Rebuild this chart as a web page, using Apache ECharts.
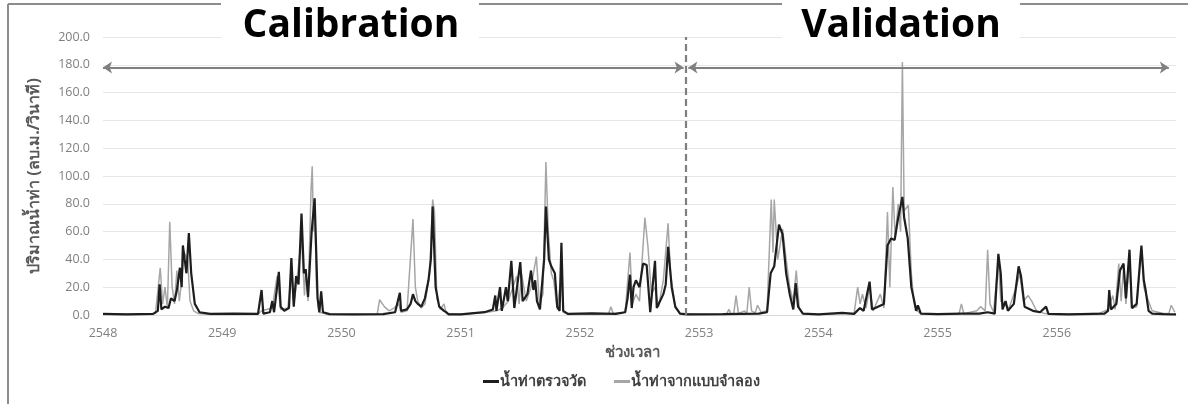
<!DOCTYPE html>
<html><head><meta charset="utf-8">
<script src="https://cdn.jsdelivr.net/npm/echarts@6/dist/echarts.min.js"></script>
<style>html,body{margin:0;padding:0;background:#fff}#c{width:1188px;height:404px}</style>
</head><body><div id="c"></div>
<script>
// Observed runoff (น้ำท่าตรวจวัด): time (Thai year) and flow (cms)
const obsTime = [2548.00,2548.20,2548.42,2548.46,2548.475,2548.49,2548.52,2548.55,2548.57,2548.60,2548.62,2548.645,2548.66,2548.67,2548.685,2548.70,2548.72,2548.74,2548.77,2548.81,2548.90,
2549.10,2549.30,2549.33,2549.345,2549.40,2549.42,2549.435,2549.46,2549.475,2549.49,2549.52,2549.56,2549.58,2549.60,2549.62,2549.64,2549.665,2549.685,2549.70,2549.72,2549.735,2549.75,2549.775,2549.80,2549.815,2549.83,2549.845,2549.90,
2550.10,2550.35,2550.45,2550.49,2550.50,2550.55,2550.58,2550.60,2550.62,2550.64,2550.67,2550.70,2550.73,2550.75,2550.765,2550.79,2550.82,2550.86,2550.88,2550.90,
2551.00,2551.20,2551.27,2551.29,2551.30,2551.33,2551.345,2551.38,2551.395,2551.425,2551.45,2551.50,2551.52,2551.56,2551.59,2551.61,2551.625,2551.64,2551.665,2551.70,2551.715,2551.74,2551.76,2551.79,2551.81,2551.83,2551.845,2551.86,2551.90,
2552.10,2552.30,2552.38,2552.40,2552.42,2552.435,2552.45,2552.47,2552.50,2552.53,2552.56,2552.59,2552.63,2552.645,2552.70,2552.72,2552.74,2552.77,2552.80,2552.84,2552.90,
2553.20,2553.50,2553.57,2553.60,2553.63,2553.67,2553.70,2553.73,2553.76,2553.79,2553.81,2553.83,2553.87,
2554.00,2554.20,2554.30,2554.35,2554.38,2554.43,2554.45,2554.50,2554.55,2554.58,2554.61,2554.64,2554.67,2554.705,2554.72,2554.75,2554.78,2554.80,2554.82,2554.835,2554.86,
2555.00,2555.20,2555.35,2555.42,2555.48,2555.51,2555.53,2555.545,2555.57,2555.59,2555.64,2555.68,2555.70,2555.73,2555.80,2555.86,2555.91,2555.93,
2556.10,2556.40,2556.43,2556.44,2556.455,2556.50,2556.53,2556.56,2556.58,2556.61,2556.63,2556.67,2556.70,2556.71,2556.73,2556.745,2556.77,2556.80,2556.90,2557.00];
const obsFlow = [0.8,0.5,0.8,3,22,4,6,5,12,10,18,34,20,50,40,30,59,30,8,2,0.8,
1.0,0.8,18,1,2,10,2,20,31,6,3,5,41,6,28,22,73,30,33,13,14,60,84,12,2,17,2,0.6,
0.5,0.6,2,16,3,4,8,15,10,8,6,12,25,40,78,20,6,3,2,0.5,
0.5,2,4,14,3,20,3,20,10,39,5,38,10,15,32,18,25,10,4,40,78,40,35,30,6,3,52,3,0.8,
1.2,0.8,2,12,29,5,20,25,20,37,36,2,39,5,15,22,49,20,6,1,0.5,
0.6,1,2,30,35,65,58,30,15,4,23,6,1,
0.5,1.5,0.8,5,3,24,4,6,8,50,55,54,70,85,70,55,20,12,3,7,1,
0.6,1,1,2,1,44,30,4,10,3,8,35,28,6,3,2,6,0.8,
0.5,1,3,18,4,8,32,37,12,47,5,8,40,50,25,18,3,1,0.6,0.5];

// Simulated runoff (น้ำท่าจากแบบจำลอง)
const simTime = [2548.00,2548.30,2548.44,2548.48,2548.50,2548.52,2548.54,2548.56,2548.58,2548.60,2548.62,2548.64,2548.66,2548.68,2548.71,2548.73,2548.76,2548.80,2548.90,
2549.30,2549.33,2549.42,2549.46,2549.49,2549.55,2549.58,2549.60,2549.62,2549.665,2549.69,2549.70,2549.72,2549.745,2549.755,2549.765,2549.775,2549.79,2549.81,2549.90,
2550.30,2550.32,2550.36,2550.40,2550.44,2550.48,2550.50,2550.55,2550.60,2550.62,2550.64,2550.67,2550.70,2550.74,2550.765,2550.78,2550.80,2550.83,2550.86,2550.88,
2551.00,2551.22,2551.30,2551.35,2551.40,2551.43,2551.47,2551.49,2551.51,2551.55,2551.59,2551.635,2551.66,2551.69,2551.715,2551.735,2551.76,2551.78,2551.81,2551.845,2551.86,2551.90,
2552.20,2552.24,2552.26,2552.28,2552.38,2552.42,2552.44,2552.47,2552.50,2552.545,2552.57,2552.60,2552.63,2552.66,2552.70,2552.74,2552.76,2552.80,2552.84,
2553.00,2553.23,2553.25,2553.27,2553.29,2553.31,2553.33,2553.38,2553.40,2553.42,2553.44,2553.47,2553.49,2553.52,2553.57,2553.605,2553.62,2553.63,2553.66,2553.70,2553.73,2553.76,2553.79,2553.815,2553.84,2553.87,
2554.00,2554.20,2554.30,2554.33,2554.35,2554.37,2554.40,2554.43,2554.46,2554.52,2554.55,2554.58,2554.60,2554.625,2554.645,2554.67,2554.69,2554.705,2554.72,2554.755,2554.78,2554.80,2554.83,2554.86,
2555.00,2555.18,2555.20,2555.22,2555.33,2555.36,2555.40,2555.42,2555.44,2555.47,2555.51,2555.53,2555.56,2555.60,2555.66,2555.69,2555.72,2555.76,2555.79,2555.83,2555.90,
2556.00,2556.35,2556.43,2556.47,2556.49,2556.52,2556.54,2556.56,2556.58,2556.61,2556.63,2556.67,2556.71,2556.73,2556.76,2556.80,2556.90,2556.94,2556.96,2556.99];
const simFlow = [0.5,0.6,1,34,8,20,5,67,20,8,32,10,25,45,40,10,3,1,0.4,
0.5,3,5,28,4,5,30,8,20,55,14,33,10,90,107,60,84,20,2,0.3,
0.5,11,6,3,5,8,2,3,69,20,10,5,8,30,83,75,12,4,8,1,
0.3,2,3,5,10,18,28,8,30,10,20,42,8,15,110,60,30,25,4,30,2,0.4,
0.6,0.8,6,1,2,45,8,15,10,70,50,15,20,6,25,66,30,5,1,
0.3,0.4,4,0.5,0.6,14,1,3,1,20,3,1.5,7,2,3,83,45,83,40,62,40,20,10,32,5,1,
0.4,1,1,20,8,15,5,20,3,15,5,74,20,92,55,80,60,182,75,79,30,10,3,1,
0.5,0.8,8,1,3,6,3,47,8,2,40,10,8,5,20,30,10,14,10,3,1,
0.4,1,4,14,4,37,10,34,8,40,5,6,47,20,12,3,1,1,7,2];

// Axis settings and annotations
const yTickValues = [0,20,40,60,80,100,120,140,160,180,200];
const xYears = [2548,2549,2550,2551,2552,2553,2554,2555,2556];
const splitYear = 2552.89;
const arrowLevel = 178;

const zip = (t, v) => t.map((x, i) => [x, v[i]]);
const font = "'Open Sans','Noto Sans',sans-serif";
const chart = echarts.init(document.getElementById('c'), null, {renderer: 'canvas'});
chart.setOption({
  animation: false,
  backgroundColor: '#fff',
  grid: {left: 103, right: 12, top: 37, bottom: 89},
  xAxis: {
    type: 'value', min: xYears[0], max: 2557, interval: 1,
    name: 'ช่วงเวลา', nameLocation: 'middle', nameGap: 30,
    nameTextStyle: {color: '#595959', fontSize: 15, fontWeight: 'bold', fontFamily: font, padding: [0,0,0,-14]},
    axisLine: {show: true, lineStyle: {color: '#d9d9d9'}},
    axisTick: {show: false},
    splitLine: {show: false},
    axisLabel: {color: '#808080', fontSize: 12.5, fontFamily: font, margin: 12,
      formatter: v => xYears.indexOf(v) >= 0 ? String(v) : ''}
  },
  yAxis: {
    type: 'value', min: yTickValues[0], max: yTickValues[yTickValues.length-1], interval: 20,
    name: 'ปริมาณน้ำท่า (ลบ.ม./วินาที)', nameLocation: 'middle', nameGap: 61,
    nameTextStyle: {color: '#595959', fontSize: 16, fontWeight: 'bold', fontFamily: font},
    axisLine: {show: false}, axisTick: {show: false},
    splitLine: {lineStyle: {color: '#e6e6e6', width: 1}},
    axisLabel: {color: '#808080', fontSize: 12.5, fontFamily: font, margin: 13,
      formatter: v => v.toFixed(1)}
  },
  legend: {
    top: 369, left: 478, itemGap: 28, itemWidth: 16, itemHeight: 3, icon: 'rect',
    textStyle: {color: '#404040', fontSize: 14.5, fontWeight: 'bold', fontFamily: font, padding: [0,0,0,-4]},
    data: ['น้ำท่าตรวจวัด', 'น้ำท่าจากแบบจำลอง']
  },
  series: [
    {
      name: 'น้ำท่าตรวจวัด', type: 'line', data: zip(obsTime, obsFlow), z: 3,
      showSymbol: false, symbol: 'none', lineStyle: {color: '#1e1e1e', width: 2.2}, itemStyle: {color: '#1e1e1e'},
      markLine: {
        silent: true, symbol: ['none','none'], label: {show: false},
        lineStyle: {color: '#7f7f7f', width: 2.2, type: [7,4]},
        data: [[{coord: [splitYear, 0]}, {coord: [splitYear, 200]}]]
      }
    },
    {
      name: 'น้ำท่าจากแบบจำลอง', type: 'line', data: zip(simTime, simFlow), z: 2,
      showSymbol: false, symbol: 'none', lineStyle: {color: '#a6a6a6', width: 1.5}, itemStyle: {color: '#a6a6a6'},
      markLine: {
        silent: true, symbol: ['arrow','arrow'], symbolSize: [9, 9], label: {show: false},
        lineStyle: {color: '#7f7f7f', width: 2, type: 'solid'},
        data: [
          [{coord: [2548, arrowLevel]}, {coord: [splitYear - 0.02, arrowLevel]}],
          [{coord: [splitYear + 0.02, arrowLevel]}, {coord: [2556.94, arrowLevel]}]
        ]
      }
    }
  ],
  graphic: [
    {type: 'line', shape: {x1: 8, y1: 4, x2: 1188, y2: 4}, style: {stroke: '#8c8c8c', lineWidth: 2}, z: 10},
    {type: 'line', shape: {x1: 8, y1: 4, x2: 8, y2: 404}, style: {stroke: '#8c8c8c', lineWidth: 2}, z: 10},
    {type: 'rect', shape: {x: 221, y: 0, width: 258, height: 40}, style: {fill: '#fff'}, z: 11},
    {type: 'rect', shape: {x: 782, y: 0, width: 238, height: 40}, style: {fill: '#fff'}, z: 11},
    {type: 'text', x: 351, y: 26, style: {text: 'Calibration', fill: '#000', font: "bold 39px 'Open Sans'", textAlign: 'center', textVerticalAlign: 'middle'}, z: 12},
    {type: 'text', x: 901, y: 26, style: {text: 'Validation', fill: '#000', font: "bold 39px 'Open Sans'", textAlign: 'center', textVerticalAlign: 'middle'}, z: 12}
  ]
});
</script></body></html>
